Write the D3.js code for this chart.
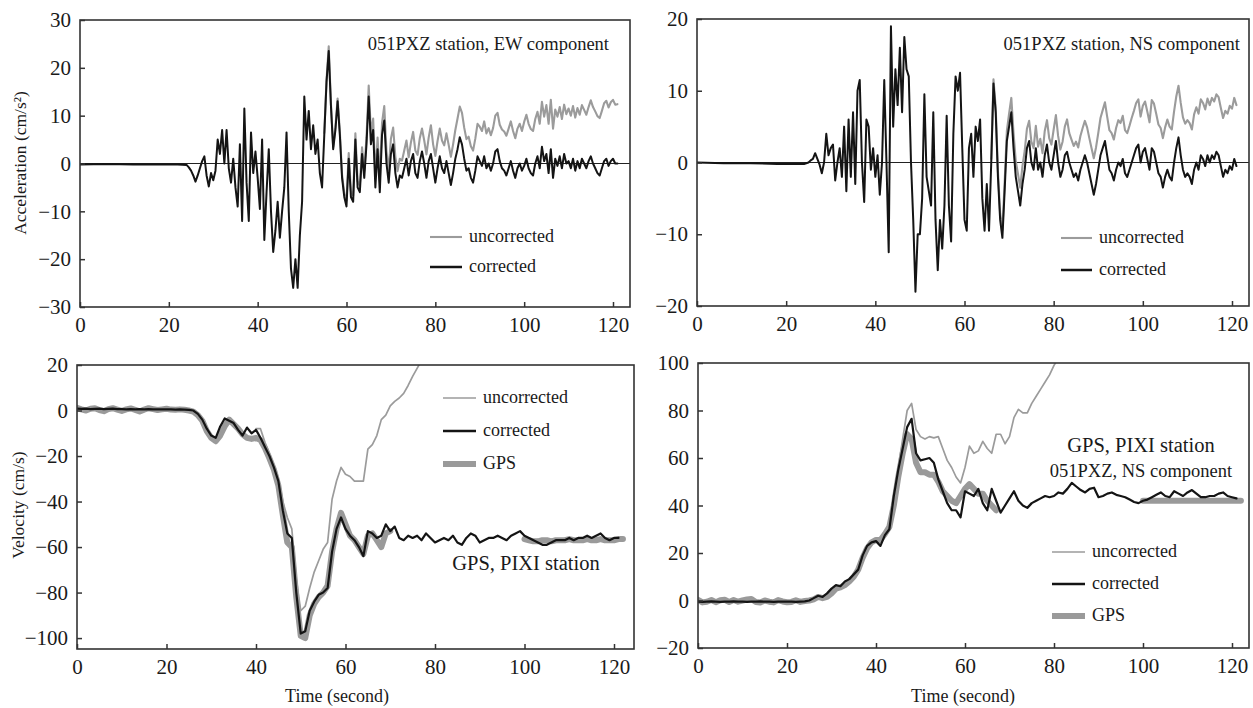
<!DOCTYPE html>
<html>
<head>
<meta charset="utf-8">
<script src="https://cdnjs.cloudflare.com/ajax/libs/d3/7.8.5/d3.min.js"></script>
<style>
  body { margin: 0; background: #fff; }
  text { font-family: "Liberation Serif", "Times New Roman", serif; fill: #1a1a1a; }
</style>
</head>
<body>
<script>
var xTicks = [0, 20, 40, 60, 80, 100, 120];

// quiet part before the records start (s)
var leadTime = [0, 6, 12, 18, 22];
var ewAccLead = [-0.2, -0.1, -0.2, -0.2, -0.2];
var nsAccLead = [0.0, -0.1, -0.1, -0.2, -0.2];

// EW acceleration, corrected, 24 -> 121 s every 0.5 s
var ewAccCorrected = [
  -0.3, -0.8, -1.5, -2.5, -3.8, -2.5, -1.0, 0.5, 1.5, -2.5,
  -4.8, -2.0, -3.5, -1.5, 5.0, 2.0, 7.0, 0.0, 7.0, -1.0,
  -4.0, 1.0, -5.0, -9.0, 4.0, -12.0, 11.5, -4.0, -12.0, 6.5,
  -2.0, 2.5, -3.0, -9.5, 5.0, -16.0, -6.0, 3.0, -10.0, -18.5,
  -14.0, -8.0, -15.5, -10.0, -5.0, 6.5, -10.0, -22.0, -26.0, -20.0,
  -26.0, -15.0, -8.0, 14.0, 5.0, 11.0, 3.0, 8.0, 2.0, 5.0,
  -2.0, -5.0, 6.0, 17.0, 23.5, 12.0, 3.0, 7.0, 13.0, 6.0,
  -3.0, -7.0, -9.0, 1.0, -7.0, -8.0, 5.0, -5.0, -6.0, 2.0,
  -3.0, 4.0, 14.0, 4.0, 7.0, -5.0, 3.0, -6.0, 6.0, 9.0,
  0.0, -4.0, 2.0, 4.0, -2.0, -5.0, -2.5, -3.0, -1.0, 1.0,
  -2.5, 0.5, 2.0, -2.0, -3.0, 0.5, 2.5, 0.0, -3.0, 0.5,
  2.0, -1.0, -4.0, -1.0, 1.5, -1.0, -2.0, 0.5, -2.0, -4.5,
  -2.0, 1.0, 3.0, 5.5, 4.0, 1.0, -1.5, -1.0, -3.0, -4.0,
  -1.5, 1.5, 0.5, -0.5, 1.5, -1.0, 0.0, -1.5, 0.0, 2.5,
  3.0, 0.5, -1.0, -1.5, -2.5, -1.0, 0.5, -1.5, -3.0, -1.0,
  0.0, -1.5, -0.5, 1.0, -1.0, -2.0, -2.5, 0.0, 1.5, -1.0,
  3.5, 0.5, 2.0, -2.0, 3.0, -3.0, 1.0, -0.5, 1.5, -1.0,
  2.0, 0.0, 0.5, -1.0, 1.0, -1.5, 0.5, -1.0, 1.0, 0.0,
  -1.0, 0.5, 1.5, 0.0, -1.0, -2.0, -2.5, -1.0, 0.5, 1.0,
  -0.5, 0.5, 1.0, 0.0, 0.0
];
// EW acceleration, uncorrected, 55 -> 121 s every 0.5 s
var ewAccUncorrected = [
  6.4, 17.5, 24.5, 12.5, 3.5, 7.6, 13.6, 6.7, -2.3, -6.3,
  -7.8, 2.2, -5.8, -6.7, 6.3, -3.7, -4.6, 3.4, -1.5, 5.5,
  16.3, 6.3, 9.4, -2.6, 5.4, -3.5, 8.5, 12.0, 2.6, -1.4,
  5.2, 7.5, 1.4, -1.6, 1.0, 0.6, 2.7, 4.8, 1.3, 4.4,
  6.6, 2.7, 1.8, 5.3, 7.3, 4.8, 1.9, 5.4, 8.0, 4.0,
  1.6, 4.7, 7.3, 4.8, 3.8, 6.3, 3.9, 1.4, 4.0, 7.0,
  9.4, 11.9, 10.6, 7.5, 5.1, 5.6, 3.6, 2.7, 5.2, 8.3,
  7.7, 6.8, 8.8, 6.3, 7.4, 5.9, 7.4, 10.0, 10.6, 8.1,
  7.1, 6.7, 5.8, 7.3, 8.8, 6.8, 5.3, 7.3, 8.3, 6.8,
  8.7, 10.2, 8.3, 7.2, 6.8, 9.3, 10.8, 8.3, 12.9, 9.8,
  12.2, 8.3, 13.3, 7.3, 11.3, 9.8, 11.8, 9.3, 12.3, 10.3,
  11.5, 10.0, 12.0, 9.6, 11.6, 10.2, 12.2, 11.2, 10.2, 11.8,
  13.2, 11.8, 10.9, 9.9, 9.5, 11.0, 12.6, 13.1, 11.7, 12.8,
  13.3, 12.3, 12.4
];

// NS acceleration, corrected, 24 -> 121 s every 0.5 s
var nsAccCorrected = [
  -0.2, -0.1, 0.0, 0.3, 0.5, 1.3, 0.5, -0.3, -1.5, 0.0,
  4.0, 1.0, 2.0, 2.5, -2.5, 0.0, 2.0, -2.0, 5.0, -4.0,
  6.0, -2.0, 7.0, -3.0, 10.0, 11.5, 0.0, -5.5, 6.0, 5.0,
  -1.0, 2.0, -2.0, 1.0, -4.5, 0.0, 11.5, 0.0, -12.5, 19.0,
  5.0, 13.0, 8.0, 16.0, 7.0, 17.5, 13.0, 12.0, 0.0, -8.0,
  -18.0, -10.0, -10.0, -5.0, 9.5, -2.0, -4.0, -6.0, 7.0, -8.0,
  -15.0, -8.0, -12.0, -6.0, 6.5, -6.0, -11.0, 4.0, 12.0, 10.0,
  12.5, 2.0, -8.0, -9.5, 2.0, 4.0, -2.0, 5.0, 3.0, 6.0,
  -5.0, -9.5, -3.0, -9.5, 0.0, 11.0, 7.0, -2.0, -8.0, -10.5,
  -4.0, 3.0, 5.0, 7.0, 2.0, -2.0, -4.0, -6.0, -3.0, -1.0,
  2.0, 3.0, 0.0, -1.0, 2.0, -1.0, 0.0, -2.0, 1.0, 2.5,
  0.0, -1.0, 1.0, 3.0, 0.0, -2.0, -1.0, 1.0, 1.5, 0.0,
  -1.0, -2.0, -1.5, -2.5, -1.0, 0.0, 1.0, 0.0, -1.5, -3.0,
  -4.5, -3.0, -1.0, 1.0, 2.0, 3.0, 1.0, -1.0, -1.5, -2.5,
  -1.0, 0.0, -0.5, 0.5, -1.5, -2.0, -1.0, 0.0, 1.0, 2.0,
  2.5, 0.0, 1.5, 2.0, 0.5, -1.0, 2.0, 1.5, 0.0, -1.5,
  -2.0, -3.5, -2.0, -1.0, -2.0, -2.5, 0.0, 2.0, 3.5, 1.0,
  -1.0, -2.0, -1.5, -2.0, -3.0, -1.0, 0.0, -1.0, 1.0, 0.5,
  -0.5, 1.0, 0.0, 1.0, 0.5, 1.5, 1.0, -0.5, -2.0, -1.0,
  -1.5, -0.5, -1.0, 0.5, -0.5
];
// NS acceleration, uncorrected, 66 -> 121 s every 0.5 s
var nsAccUncorrected = [
  0.5, 11.6, 7.7, -1.2, -7.1, -9.4, -2.8, 4.4, 6.8, 9.0,
  4.1, 0.2, -1.6, -3.5, -0.5, 1.6, 4.7, 5.8, 2.9, 2.0,
  5.1, 2.2, 3.3, 1.3, 4.4, 5.9, 3.4, 2.5, 4.6, 6.6,
  3.7, 1.8, 2.9, 5.0, 6.0, 4.1, 3.2, 2.3, 2.9, 2.1,
  3.7, 4.8, 5.8, 4.9, 3.4, 2.0, 0.6, 2.1, 4.1, 6.2,
  7.3, 8.4, 6.4, 4.5, 4.1, 3.2, 4.8, 5.9, 5.5, 6.5,
  4.5, 4.1, 5.1, 6.2, 7.2, 8.3, 8.8, 6.4, 7.9, 8.5,
  7.1, 5.6, 8.7, 8.2, 6.8, 5.3, 4.8, 3.4, 4.9, 6.0,
  5.0, 4.6, 7.1, 9.2, 10.7, 8.3, 6.3, 5.4, 5.9, 5.5,
  4.6, 6.7, 7.7, 6.8, 8.8, 8.3, 7.4, 8.9, 8.0, 9.0,
  8.5, 9.5, 9.1, 7.6, 6.2, 7.2, 6.8, 7.9, 7.5, 9.0,
  8.0
];

// EW velocity, corrected, 0 -> 121 s every 1 s
var ewVelCorrected = [
  0.8, 0.7, 0.8, 0.6, 0.7, 0.8, 0.6, 0.7, 0.8, 0.6,
  0.6, 0.5, 0.6, 0.5, 0.6, 0.5, 0.6, 0.5, 0.5, 0.5,
  0.5, 0.5, 0.4, 0.5, 0.4, 0.3, 0.0, -1.5, -4.0, -8.0,
  -11.0, -12.0, -7.0, -3.5, -4.5, -5.5, -8.5, -11.0, -7.5, -10.0,
  -8.5, -12.0, -16.0, -20.0, -25.0, -31.0, -44.0, -54.0, -56.0, -80.0,
  -98.0, -97.0, -88.0, -84.0, -81.0, -80.0, -78.0, -62.0, -52.0, -47.0,
  -52.0, -55.0, -57.0, -60.0, -64.0, -53.0, -54.0, -56.0, -55.0, -50.0,
  -53.0, -51.0, -56.0, -57.0, -55.0, -56.0, -55.0, -57.0, -54.0, -56.0,
  -58.0, -57.0, -56.0, -57.0, -55.0, -58.0, -59.0, -56.0, -54.0, -55.0,
  -58.0, -57.0, -56.0, -56.0, -55.0, -56.0, -57.0, -55.0, -54.0, -53.0,
  -55.0, -56.0, -57.0, -58.0, -59.0, -59.0, -58.0, -57.0, -57.0, -57.0,
  -56.0, -57.0, -56.0, -56.0, -55.0, -56.0, -55.0, -54.0, -56.0, -57.0,
  -56.0, -56.0
];
// EW velocity, uncorrected, 40 -> 77 s every 1 s
var ewVelUncorrected = [
  -8.0, -8.0, -14.0, -19.0, -24.0, -30.0, -40.0, -47.0, -52.0, -74.0,
  -88.0, -86.0, -78.0, -71.0, -66.0, -61.0, -58.0, -39.0, -31.0, -25.0,
  -28.0, -29.0, -31.0, -31.0, -31.0, -17.0, -15.0, -11.0, -4.0, -2.0,
  2.0, 4.0, 5.5, 7.5, 11.0, 15.0, 18.5, 22.0
];
// EW velocity from GPS, 0 -> 70 s and 100 -> 122 s every 1 s
var ewVelGps = [
  1.2, 0.5, 0.0, 0.8, 1.0, 0.2, -0.3, 0.6, 1.0, 0.4,
  -0.2, 0.5, 0.9, 0.3, -0.4, 0.4, 1.0, 0.6, 0.2, 0.5,
  0.8, 0.4, 0.3, 0.5, 0.3, 0.0, -0.5, -2.0, -4.5, -9.0,
  -12.0, -13.5, -11.0, -7.0, -4.0, -6.0, -8.0, -10.5, -12.0, -12.5,
  -12.0, -13.0, -16.5, -21.0, -26.0, -33.0, -46.0, -58.0, -60.0, -82.0,
  -99.0, -100.0, -90.0, -85.0, -82.0, -80.0, -77.0, -62.0, -52.0, -45.0,
  -50.0, -55.0, -57.0, -60.0, -63.0, -55.0, -54.0, -57.0, -60.0, -54.0,
  -53.0
];
var ewVelGpsTail = [
  -56.5, -57.0, -57.5, -57.5, -57.0, -57.0, -57.5, -57.0, -57.0, -57.0,
  -56.5, -57.0, -57.0, -57.0, -56.5, -57.0, -57.0, -56.5, -57.0, -57.0,
  -57.0, -56.5, -56.5
];

// NS velocity, corrected, 0 -> 121 s every 1 s
var nsVelCorrected = [
  -0.5, -0.6, -0.5, -0.4, -0.5, -0.6, -0.5, -0.5, -0.4, -0.5,
  -0.5, -0.6, -0.5, -0.5, -0.4, -0.5, -0.5, -0.6, -0.5, -0.5,
  -0.5, -0.5, -0.6, -0.5, -0.4, 0.0, 1.0, 2.0, 1.5, 3.0,
  5.0, 6.5, 6.0, 8.0, 9.0, 11.0, 13.0, 19.0, 23.0, 24.5,
  25.0, 23.0, 27.5, 30.0, 44.0, 55.0, 64.0, 73.0, 76.5, 62.0,
  59.0, 59.5, 60.0, 58.0, 51.0, 46.0, 41.0, 38.0, 38.0, 35.0,
  46.0, 45.0, 44.0, 47.0, 41.0, 38.0, 47.0, 42.0, 37.0, 40.0,
  43.0, 46.0, 42.0, 40.0, 39.0, 41.0, 42.0, 43.0, 44.0, 43.5,
  44.0, 45.5, 45.0, 47.0, 49.5, 48.0, 46.5, 45.5, 47.0, 47.5,
  43.5, 44.0, 45.0, 45.5, 44.5, 44.0, 43.5, 42.5, 41.5, 41.0,
  42.0, 42.5, 43.5, 44.5, 45.5, 44.0, 43.5, 46.0, 45.0, 44.0,
  45.5, 46.5, 45.0, 43.5, 43.5, 44.0, 44.0, 45.0, 45.5, 44.0,
  43.5, 43.0
];
// NS velocity, uncorrected, 44 -> 81 s every 1 s
var nsVelUncorrected = [
  42.0, 56.0, 68.0, 80.0, 83.0, 72.0, 69.0, 68.0, 69.0, 68.5,
  69.0, 64.0, 59.0, 56.0, 52.0, 49.5, 56.0, 65.0, 62.0, 63.0,
  67.0, 64.0, 62.0, 70.0, 70.0, 66.0, 69.0, 77.0, 80.5, 79.0,
  79.0, 83.0, 86.0, 89.0, 92.0, 95.0, 99.0, 102.0
];
// NS velocity from GPS, 0 -> 67 s and 100 -> 122 s every 1 s
var nsVelGps = [
  0.3, -0.8, -0.5, 0.2, -0.7, 0.1, 0.3, -0.6, 0.2, -0.5,
  0.0, 0.4, 0.6, -0.6, -0.8, 0.0, -0.5, -0.8, 0.2, -0.4,
  -0.7, -0.6, 0.1, -0.6, -0.2, 0.0, 0.5, 1.5, 1.0, 1.5,
  3.0, 5.0, 5.5, 6.5, 8.0, 10.0, 13.0, 18.0, 22.0, 24.5,
  25.5, 25.5, 28.0, 31.0, 40.0, 52.0, 62.0, 70.0, 68.0, 58.0,
  54.0, 54.0, 53.0, 53.0, 50.0, 46.0, 44.0, 42.0, 41.0, 44.0,
  47.0, 49.0, 47.0, 45.0, 45.0, 42.0, 40.0, 38.0
];
var nsVelGpsTail = [
  42.0, 42.0, 42.0, 42.0, 42.0, 42.0, 42.0, 42.0, 42.0, 42.0,
  42.0, 42.0, 42.0, 42.0, 42.0, 42.0, 42.0, 42.0, 42.0, 42.0,
  42.0, 42.0, 42.0
];

// ---------- helpers ----------
function serie(start, step, values) {
  return values.map(function(v, i) {
    return [start + i * step, v];
  });
}
function withLead(leadT, leadV, rest) {
  return leadT.map(function(t, i) { return [t, leadV[i]]; }).concat(rest);
}

// line styles, acceleration panels and velocity panels
var accStyles = {
  unc: {color: "#9b9b9b", width: 2.1},
  cor: {color: "#141414", width: 2.0}
};
var velStyles = {
  unc: {color: "#9b9b9b", width: 1.7},
  cor: {color: "#141414", width: 2.2},
  gps: {color: "#9a9a9a", width: 6}
};

var vis = { width: 1253, height: 708 };

var svg = d3.select("body").append("svg")
  .attr("width", vis.width)
  .attr("height", vis.height);

var panels = [
  {
    left: 80, right: 630, top: 20, bottom: 307, x120: 613, styles: accStyles,
    yDomain: [-30, 30], yTicks: [-30, -20, -10, 0, 10, 20, 30], zero: true,
    series: [
      {pts: serie(55, 0.5, ewAccUncorrected), st: "unc"},
      {pts: withLead(leadTime, ewAccLead, serie(24, 0.5, ewAccCorrected)), st: "cor"}
    ],
    legend: {x: 430, len: 32, items: [["uncorrected", "unc", 237], ["corrected", "cor", 267]]},
    notes: [{text: "051PXZ station, EW component", x: 609, y: 50, anchor: "end", size: 18.5}],
    ylabel: {text: "Acceleration (cm/s\u00b2)", x: 26, y: 163}
  },
  {
    left: 697, right: 1249, top: 19, bottom: 306, x120: 1232, styles: accStyles,
    yDomain: [-20, 20], yTicks: [-20, -10, 0, 10, 20], zero: true,
    series: [
      {pts: serie(66, 0.5, nsAccUncorrected), st: "unc"},
      {pts: withLead(leadTime, nsAccLead, serie(24, 0.5, nsAccCorrected)), st: "cor"}
    ],
    legend: {x: 1061, len: 31, items: [["uncorrected", "unc", 238], ["corrected", "cor", 270]]},
    notes: [{text: "051PXZ station, NS component", x: 1240, y: 50, anchor: "end", size: 18.5}]
  },
  {
    left: 77, right: 634, top: 365, bottom: 649, x120: 614, styles: velStyles,
    yDomain: [-104.8, 20], yTicks: [-100, -80, -60, -40, -20, 0, 20], zero: false,
    series: [
      {pts: serie(0, 1, ewVelGps), st: "gps"},
      {pts: serie(100, 1, ewVelGpsTail), st: "gps"},
      {pts: serie(40, 1, ewVelUncorrected), st: "unc"},
      {pts: serie(0, 1, ewVelCorrected), st: "cor"}
    ],
    legend: {x: 443, len: 33, items: [["uncorrected", "unc", 398], ["corrected", "cor", 431], ["GPS", "gps", 464]]},
    notes: [{text: "GPS, PIXI station", x: 526, y: 570, anchor: "middle", size: 20.5}],
    ylabel: {text: "Velocity (cm/s)", x: 24, y: 505},
    xlabel: {text: "Time (second)", x: 337, y: 702}
  },
  {
    left: 698, right: 1249, top: 363, bottom: 648, x120: 1232, styles: velStyles,
    yDomain: [-20, 100], yTicks: [-20, 0, 20, 40, 60, 80, 100], zero: false,
    series: [
      {pts: serie(0, 1, nsVelGps), st: "gps"},
      {pts: serie(100, 1, nsVelGpsTail), st: "gps"},
      {pts: serie(44, 1, nsVelUncorrected), st: "unc"},
      {pts: serie(0, 1, nsVelCorrected), st: "cor"}
    ],
    legend: {x: 1052, len: 33, items: [["uncorrected", "unc", 552], ["corrected", "cor", 584], ["GPS", "gps", 616]]},
    notes: [
      {text: "GPS, PIXI station", x: 1141, y: 452, anchor: "middle", size: 20.5},
      {text: "051PXZ, NS component", x: 1141, y: 477, anchor: "middle", size: 18.5}
    ],
    xlabel: {text: "Time (second)", x: 963, y: 702}
  }
];

panels.forEach(function(p, k) {
  var x = d3.scaleLinear().domain([0, 120]).range([p.left, p.x120]);
  var y = d3.scaleLinear().domain(p.yDomain).range([p.bottom, p.top]);
  var g = svg.append("g");

  g.append("clipPath").attr("id", "clip" + k)
    .append("rect")
    .attr("x", p.left).attr("y", p.top)
    .attr("width", p.right - p.left).attr("height", p.bottom - p.top);

  if (p.zero) {
    g.append("line")
      .attr("x1", p.left).attr("x2", p.right)
      .attr("y1", y(0)).attr("y2", y(0))
      .attr("stroke", "#222").attr("stroke-width", 1);
  }

  var line = d3.line()
    .x(function(d) { return x(d[0]); })
    .y(function(d) { return y(d[1]); });

  g.append("g").attr("clip-path", "url(#clip" + k + ")")
    .selectAll("path")
    .data(p.series)
    .enter()
    .append("path")
    .attr("d", function(s) { return line(s.pts); })
    .attr("fill", "none")
    .attr("stroke", function(s) { return p.styles[s.st].color; })
    .attr("stroke-width", function(s) { return p.styles[s.st].width; })
    .attr("stroke-linejoin", "round")
    .attr("stroke-linecap", "round");

  // axes, ticks pointing inward
  var xAxis = g.append("g")
    .attr("transform", "translate(0," + p.bottom + ")")
    .call(d3.axisBottom(x).tickValues(xTicks).tickSizeInner(-5).tickSizeOuter(0).tickPadding(10));
  var yAxis = g.append("g")
    .attr("transform", "translate(" + p.left + ",0)")
    .call(d3.axisLeft(y).tickValues(p.yTicks).tickSizeInner(-5).tickSizeOuter(0).tickPadding(9));
  [xAxis, yAxis].forEach(function(a) {
    a.select(".domain").remove();
    a.selectAll("line").attr("stroke", "#333").attr("stroke-width", 1.5);
    a.selectAll("text")
      .attr("font-size", 21)
      .attr("fill", "#1a1a1a");
  });

  g.append("rect")
    .attr("x", p.left).attr("y", p.top)
    .attr("width", p.right - p.left).attr("height", p.bottom - p.top)
    .attr("fill", "none").attr("stroke", "#333").attr("stroke-width", 1.6);

  // legend
  var lg = g.selectAll(".leg").data(p.legend.items).enter().append("g");
  lg.append("line")
    .attr("x1", p.legend.x).attr("x2", p.legend.x + p.legend.len)
    .attr("y1", function(d) { return d[2]; }).attr("y2", function(d) { return d[2]; })
    .attr("stroke", function(d) { return p.styles[d[1]].color; })
    .attr("stroke-width", function(d) { return d[1] === "cor" ? 2.5 : p.styles[d[1]].width; });
  lg.append("text")
    .attr("x", p.legend.x + p.legend.len + 7)
    .attr("y", function(d) { return d[2]; })
    .attr("dy", "0.3em")
    .attr("font-size", 18)
    .text(function(d) { return d[0]; });

  g.selectAll(".note").data(p.notes).enter().append("text")
    .attr("x", function(d) { return d.x; })
    .attr("y", function(d) { return d.y; })
    .attr("text-anchor", function(d) { return d.anchor; })
    .attr("font-size", function(d) { return d.size; })
    .text(function(d) { return d.text; });

  if (p.ylabel) {
    g.append("text")
      .attr("transform", "translate(" + p.ylabel.x + "," + p.ylabel.y + ") rotate(-90)")
      .attr("text-anchor", "middle")
      .attr("font-size", 17.5)
      .text(p.ylabel.text);
  }
  if (p.xlabel) {
    g.append("text")
      .attr("x", p.xlabel.x).attr("y", p.xlabel.y)
      .attr("text-anchor", "middle")
      .attr("font-size", 18)
      .text(p.xlabel.text);
  }
});
</script>
</body>
</html>
